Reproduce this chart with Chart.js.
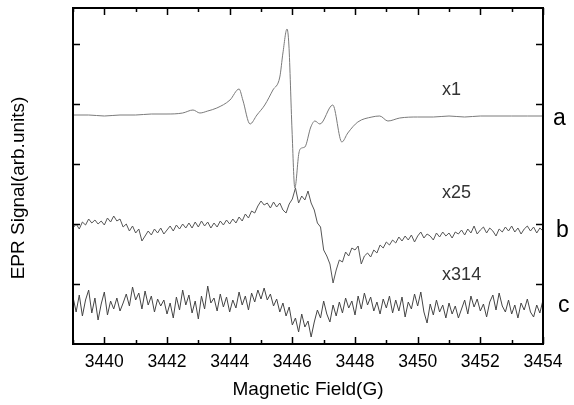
<!DOCTYPE html>
<html>
<head>
<meta charset="utf-8">
<script src="https://cdn.jsdelivr.net/npm/chart.js@4.4.1/dist/chart.umd.min.js"></script>
<style>
  html, body { margin: 0; padding: 0; background: #fff; }
</style>
</head>
<body>
<canvas id="eprChart" width="574" height="405"></canvas>
<script>
// trace a (x1): field (G) and signal (arb. units)
const aField = [3439.0, 3439.5, 3440.0, 3440.5, 3441.0, 3441.5, 3442.0, 3442.5, 3442.83, 3443.05,
  3443.3, 3443.59, 3444.01, 3444.3, 3444.42, 3444.65, 3444.87, 3445.12, 3445.38, 3445.6,
  3445.7, 3445.83, 3445.89, 3445.99, 3446.08, 3446.21, 3446.3, 3446.4, 3446.59, 3446.72,
  3446.88, 3447.29, 3447.58, 3447.77, 3448.09, 3448.54, 3448.79, 3449.05, 3449.43, 3450.0,
  3450.5, 3451.0, 3451.5, 3452.0, 3452.5, 3453.0, 3453.5, 3454.0];
const aSignal = [229, 229, 228, 229, 229, 230, 230, 231, 234, 231,
  233, 236, 244, 255, 244, 220, 229, 239, 254, 267,
  291, 315, 299, 214, 156, 191, 196, 197, 217, 223,
  220, 239, 202, 211, 222, 227, 228, 223, 226, 227,
  227, 228, 227, 228, 228, 228, 228, 228];

// traces b (x25) and c (x314): sampled every 0.1 G from 3439 G
const fieldStart = 3439;
const fieldStep = 0.1;
const bSignal = [116, 120, 115, 122, 119, 125, 121, 124, 120, 123,
  119, 126, 122, 128, 123, 125, 117, 120, 113, 118,
  111, 115, 103, 108, 113, 109, 115, 111, 116, 110,
  114, 118, 113, 119, 115, 120, 116, 121, 116, 122,
  117, 123, 118, 122, 116, 121, 117, 123, 119, 124,
  120, 125, 121, 127, 123, 130, 126, 133, 131, 138,
  143, 139, 141, 136, 142, 137, 141, 134, 131, 140,
  145, 156, 141, 148, 144, 153, 141, 134, 121, 117,
  94, 88, 80, 61, 74, 84, 82, 92, 88, 96,
  94, 98, 80, 88, 91, 87, 94, 91, 99, 96,
  102, 99, 104, 101, 107, 103, 108, 104, 109, 102,
  108, 112, 106, 110, 108, 104, 111, 107, 112, 108,
  111, 106, 112, 110, 114, 109, 115, 111, 118, 110,
  114, 117, 111, 116, 113, 108, 115, 112, 117, 113,
  118, 112, 116, 110, 115, 118, 113, 117, 111, 116,
  113];
const cSignal = [47, 32, 49, 28, 44, 54, 31, 46, 24, 40,
  52, 29, 43, 35, 46, 33, 41, 50, 38, 57,
  44, 51, 35, 53, 39, 48, 32, 45, 38, 44,
  30, 41, 26, 47, 34, 54, 39, 49, 31, 43,
  25, 48, 35, 58, 41, 46, 33, 50, 37, 47,
  32, 44, 36, 52, 39, 48, 34, 51, 42, 54,
  45, 56, 44, 50, 38, 45, 32, 41, 28, 37,
  19, 26, 12, 30, 17, 23, 7, 22, 34, 26,
  43, 30, 22, 39, 28, 42, 31, 46, 36, 43,
  29, 48, 35, 51, 39, 47, 33, 42, 30, 45,
  36, 48, 31, 44, 33, 47, 27, 42, 35, 50,
  38, 52, 32, 21, 40, 29, 44, 32, 39, 26,
  41, 30, 38, 26, 35, 44, 30, 48, 37, 45,
  33, 40, 27, 42, 49, 34, 51, 38, 32, 44,
  30, 39, 26, 41, 34, 45, 32, 27, 39, 31,
  44];

const xTicksLabelled = [3440, 3442, 3444, 3446, 3448, 3450, 3452, 3454];
const yTickValues = [60, 120, 180, 240, 300];

// labels: [text, field, signal]
const scaleLabels = [['x1', 3450.78, 249], ['x25', 3450.78, 146], ['x314', 3450.78, 64]];
// trace letters outside the frame: [text, px right of frame, signal]
const traceLetters = [['a', 10, 219], ['b', 13, 107], ['c', 15, 32]];

const FONT = '"Liberation Sans", Arial, sans-serif';

const toPoints = (xs, ys) => ys.map((y, i) => ({ x: xs[i], y: y }));
const sampled = ys => ys.map((y, i) => ({ x: fieldStart + i * fieldStep, y: y }));

const frameAndText = {
  id: 'frameAndText',
  afterDraw(chart) {
    const { ctx, chartArea: ca, scales: { x, y } } = chart;
    ctx.save();
    ctx.strokeStyle = '#000';
    ctx.lineWidth = 2;
    ctx.strokeRect(ca.left, ca.top, ca.right - ca.left, ca.bottom - ca.top);

    // inward ticks
    ctx.lineWidth = 1.5;
    ctx.beginPath();
    for (let v = 3439; v <= 3454; v++) {
      const px = Math.round(x.getPixelForValue(v)) + 0.5;
      const len = v % 2 === 0 ? 7 : 4;
      ctx.moveTo(px, ca.bottom); ctx.lineTo(px, ca.bottom - len);
      ctx.moveTo(px, ca.top); ctx.lineTo(px, ca.top + len);
    }
    yTickValues.forEach(v => {
      const py = Math.round(y.getPixelForValue(v)) + 0.5;
      ctx.moveTo(ca.left, py); ctx.lineTo(ca.left + 7, py);
      ctx.moveTo(ca.right, py); ctx.lineTo(ca.right - 7, py);
    });
    ctx.stroke();

    ctx.fillStyle = '#333';
    ctx.textBaseline = 'alphabetic';
    ctx.textAlign = 'left';
    ctx.font = '18px ' + FONT;
    scaleLabels.forEach(([t, f, s]) => {
      ctx.fillText(t, x.getPixelForValue(f), y.getPixelForValue(s));
    });
    ctx.fillStyle = '#000';
    ctx.font = '23px ' + FONT;
    traceLetters.forEach(([t, dx, s]) => {
      ctx.fillText(t, ca.right + dx, y.getPixelForValue(s));
    });

    // y title
    ctx.font = '19px ' + FONT;
    ctx.textAlign = 'center';
    ctx.textBaseline = 'middle';
    ctx.translate(19, y.getPixelForValue(156));
    ctx.rotate(-Math.PI / 2);
    ctx.fillText('EPR Signal(arb.units)', 0, 0);
    ctx.restore();
  }
};

new Chart(document.getElementById('eprChart'), {
  type: 'line',
  data: {
    datasets: [
      { label: 'a', data: toPoints(aField, aSignal), borderColor: '#7a7a7a', borderWidth: 1, cubicInterpolationMode: 'monotone' },
      { label: 'b', data: sampled(bSignal), borderColor: '#555', borderWidth: 1 },
      { label: 'c', data: sampled(cSignal), borderColor: '#444', borderWidth: 1 }
    ]
  },
  options: {
    responsive: false,
    animation: false,
    devicePixelRatio: 1,
    layout: { padding: { top: 8, right: 31, left: 0, bottom: 0 } },
    elements: { point: { radius: 0 }, line: { tension: 0 } },
    plugins: { legend: { display: false }, tooltip: { enabled: false } },
    scales: {
      x: {
        type: 'linear',
        min: 3439,
        max: 3454,
        afterFit: s => { s.height = 61; },
        grid: { display: false, drawTicks: false },
        border: { display: false },
        ticks: {
          stepSize: 1,
          autoSkip: false,
          maxRotation: 0,
          padding: 8,
          color: '#000',
          font: { family: FONT, size: 17.5 },
          callback: v => xTicksLabelled.includes(v) ? String(v) : ''
        },
        title: {
          display: true,
          text: 'Magnetic Field(G)',
          color: '#000',
          font: { family: FONT, size: 19 },
          padding: { top: 0, bottom: 4 }
        }
      },
      y: {
        min: 0,
        max: 336,
        afterFit: s => { s.width = 73; },
        grid: { display: false, drawTicks: false },
        border: { display: false },
        ticks: { display: false, stepSize: 60 }
      }
    }
  },
  plugins: [frameAndText]
});
</script>
</body>
</html>
